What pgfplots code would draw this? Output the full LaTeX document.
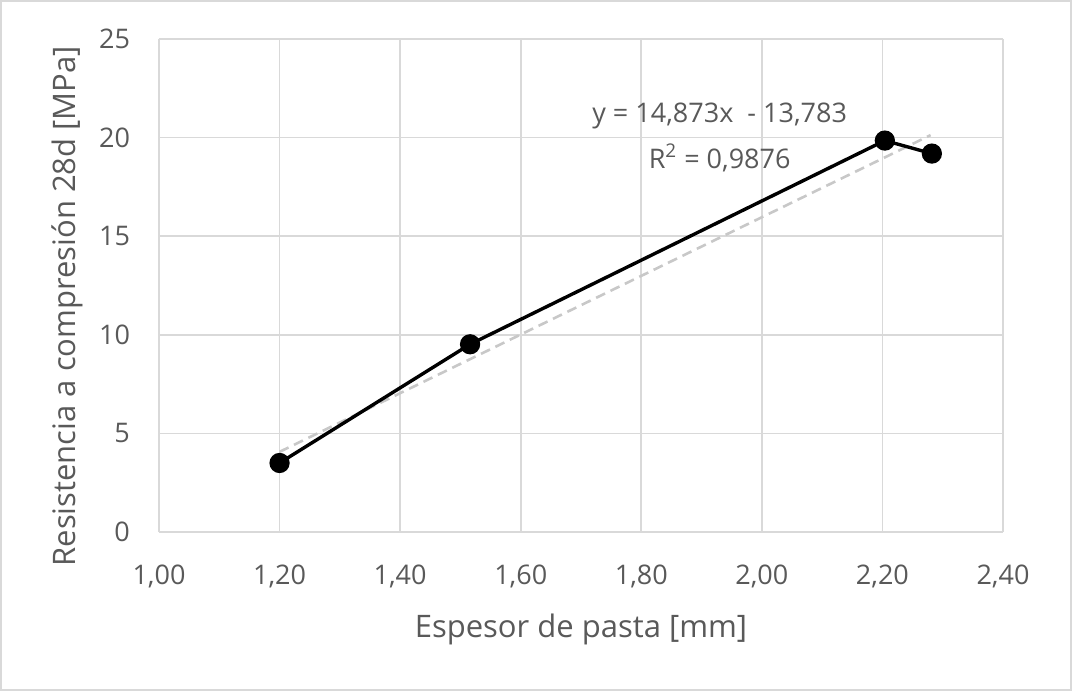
\documentclass[border=0pt]{standalone}
\usepackage{pgfplots}
\pgfplotsset{compat=1.18}
\usepackage{fontspec}
\setmainfont{Open Sans}
\definecolor{txt}{HTML}{595959}
\definecolor{grd}{HTML}{D9D9D9}
\definecolor{trend}{HTML}{C8C8C8}
\begin{document}
\begin{tikzpicture}[x=0.5pt,y=0.5pt]
\draw[grd,line width=1pt] (1,-1) rectangle (1071,-690);
\path[use as bounding box] (0,0) rectangle (1072,-691);
\begin{axis}[
  at={(159pt*0.5,-532pt*0.5)}, anchor=origin,
  scale only axis, width=422pt, height=246.5pt,
  xmin=1, xmax=2.4, ymin=0, ymax=25,
  xtick={1,1.2,...,2.41}, ytick={0,5,...,25},
  grid=major, major grid style={grd,line width=0.8pt},
  axis line style={draw=none},
  axis x line*=bottom, axis y line*=left,
  x axis line style={grd,line width=1pt},
  tick style={draw=none},
  x tick label style={/pgf/number format/.cd,fixed,fixed zerofill,precision=2,use comma,assume math mode=true},
  y tick label style={/pgf/number format/assume math mode=true},
  ticklabel style={text=txt,font=\fontsize{13.5}{16}\selectfont},
  xticklabel shift=13pt, yticklabel shift=11pt,
  xlabel={Espesor de pasta [mm]}, ylabel={Resistencia a compresión 28d [MPa]},
  label style={text=txt,font=\fontsize{15.5}{18}\selectfont},
  xlabel style={yshift=-6pt},
  ylabel style={at={(ticklabel cs:0.458)},yshift=1pt},
  clip=false,
]
\addplot[trend,line width=1.3pt,dash pattern=on 5pt off 3pt] coordinates {(1.20,4.065) (2.28,20.127)};
\addplot[black,line width=1.7pt,mark=*,mark size=4.2pt] coordinates {(1.20,3.5) (1.516,9.52) (2.204,19.85) (2.282,19.19)};
\node[text=txt,font=\fontsize{13.5}{16}\selectfont,anchor=center] at (axis cs:1.93,21.1) {y = 14,873x \ - 13,783};
\node[text=txt,font=\fontsize{13.5}{16}\selectfont,anchor=center] at (axis cs:1.93,18.97) {R\textsuperscript{2} = 0,9876};
\end{axis}
\end{tikzpicture}
\end{document}
